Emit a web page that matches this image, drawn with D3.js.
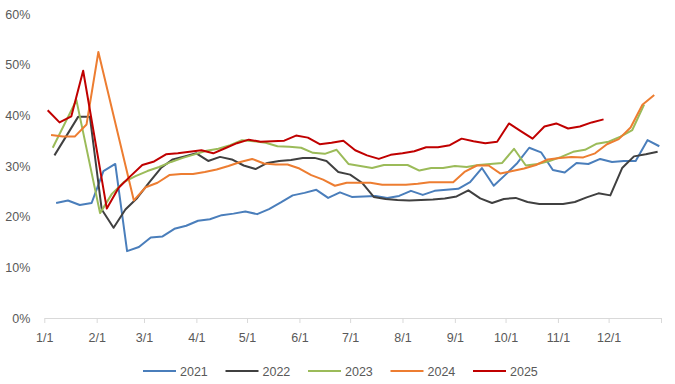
<!DOCTYPE html>
<html>
<head>
<meta charset="utf-8">
<script src="https://cdn.jsdelivr.net/npm/d3@7"></script>
<style>
  body { margin: 0; background: #fff; }
  #chart { width: 675px; height: 384px; }
  text { font-family: "Liberation Sans", Arial, sans-serif; fill: #595959; }
</style>
</head>
<body>
<div id="chart"></div>
<script>
// weekly values (%), null = week with no reading
const years = ["2021", "2022", "2023", "2024", "2025"];
const startDays = ["01-08", "01-07", "01-06", "01-05", "01-03"];
const colors = ["#4a7ebb", "#404040", "#9bbb59", "#ed7d31", "#c00000"];

const v2021 = [22.7,23.2,22.3,22.7,29.0,30.4,13.2,14.0,15.9,16.1,17.6,18.2,19.2,19.5,20.3,20.6,21.0,20.5,21.5,22.8,
  24.2,24.7,25.3,23.7,24.8,23.9,24.0,24.1,23.7,24.1,25.1,24.3,25.1,25.3,25.5,26.8,29.6,26.1,28.3,30.6,
  33.6,32.7,29.2,28.7,30.6,30.4,31.4,30.8,31.0,31.0,35.1,33.9];
const v2022 = [32.1,null,39.7,39.7,21.4,17.8,21.4,23.7,26.7,29.6,31.3,31.9,32.5,31.0,31.8,31.3,30.1,29.4,30.6,31.0,
  31.2,31.6,31.6,31.0,28.8,28.3,26.7,23.9,23.5,23.3,23.2,23.3,23.4,23.6,24.0,25.2,23.6,22.7,23.5,23.7,
  22.9,22.5,22.5,22.5,22.9,23.8,24.6,24.2,29.6,31.9,32.3,32.8];
const v2023 = [33.6,null,43.0,null,20.7,24.5,26.8,28.0,29.0,29.8,30.8,31.6,32.3,33.0,33.4,34.1,35.1,34.9,34.6,33.9,
  33.8,33.6,32.6,32.4,33.2,30.4,30.0,29.6,30.2,30.2,30.2,29.1,29.6,29.6,30.0,29.8,30.2,30.4,30.6,33.4,
  30.1,30.4,31.0,31.8,32.8,33.2,34.4,34.8,35.8,37.1,42.1];
const v2024 = [36.1,35.8,35.8,38.2,52.5,null,null,23.2,25.8,26.7,28.2,28.4,28.4,28.8,29.3,30.0,30.8,31.4,30.5,30.3,
  30.3,29.5,28.2,27.3,26.1,26.7,26.7,26.7,26.3,26.3,26.3,26.5,26.8,26.8,26.8,28.9,30.1,30.1,28.5,29.0,
  29.5,30.2,31.3,31.6,31.8,31.7,32.5,34.3,35.3,37.6,42.1,44.0];
const v2025 = [41.0,38.6,39.8,48.8,null,21.6,25.7,28.0,30.2,30.9,32.3,32.5,32.8,33.1,32.5,33.5,34.5,35.2,34.8,34.9,
  35.0,36.0,35.6,34.3,34.6,35.0,33.1,32.1,31.4,32.2,32.5,32.9,33.7,33.7,34.1,35.4,34.9,34.5,34.8,38.4,
  36.9,35.4,37.8,38.4,37.4,37.8,38.6,39.2];
const seriesValues = [v2021, v2022, v2023, v2024, v2025];

const yTicks = [0, 10, 20, 30, 40, 50, 60];
const monthLabels = ["1/1","2/1","3/1","4/1","5/1","6/1","7/1","8/1","9/1","10/1","11/1","12/1"];

// Set dimensions
const width = 675, height = 384;
const plot = { left: 44.3, right: 661, top: 14, bottom: 318 };

const svg = d3.select("#chart")
  .append("svg")
  .attr("width", width)
  .attr("height", height);

// all years mapped onto one calendar year
const parse = d3.timeParse("%Y-%m-%d");
const baseYear = 2021;
const x = d3.scaleTime()
  .domain([parse(`${baseYear}-01-01`), parse(`${baseYear + 1}-01-01`)])
  .range([plot.left, plot.right]);

const y = d3.scaleLinear()
  .domain([0, 60])
  .range([plot.bottom, plot.top]);

// Y labels (no axis line, no grid)
const yAxis = svg.append("g")
  .attr("transform", `translate(${plot.left},0)`)
  .call(d3.axisLeft(y).tickValues(yTicks).tickFormat(d => d + "%").tickSize(0).tickPadding(14));
yAxis.select(".domain").remove();
yAxis.selectAll("text").style("font-size", "12.5px").style("font-family", "Liberation Sans, Arial, sans-serif").attr("fill", "#595959");

// X axis at 0%
const monthDates = monthLabels.map((m, i) => new Date(baseYear, i, 1));
const xAxis = svg.append("g")
  .attr("transform", `translate(0,${plot.bottom})`)
  .call(d3.axisBottom(x)
    .tickValues(monthDates.concat([new Date(baseYear + 1, 0, 1)]))
    .tickFormat((d, i) => monthLabels[i] || "")
    .tickSize(5)
    .tickSizeOuter(0)
    .tickPadding(10));
xAxis.select(".domain").attr("stroke", "#d9d9d9");
xAxis.selectAll(".tick line").attr("stroke", "#d9d9d9");
xAxis.selectAll("text").style("font-size", "12.5px").style("font-family", "Liberation Sans, Arial, sans-serif").attr("fill", "#595959");

// Lines
const line = d3.line()
  .x(d => x(d.date))
  .y(d => y(d.value));

seriesValues.forEach((vals, k) => {
  const start = parse(`${baseYear}-${startDays[k]}`);
  const pts = vals
    .map((v, i) => ({ date: d3.timeDay.offset(start, i * 7), value: v }))
    .filter(d => d.value !== null);
  svg.append("path")
    .datum(pts)
    .attr("fill", "none")
    .attr("stroke", colors[k])
    .attr("stroke-width", 2)
    .attr("stroke-linejoin", "round")
    .attr("d", line);
});

// Legend
const legend = svg.append("g").attr("transform", "translate(143,371)");
years.forEach((yr, i) => {
  const row = legend.append("g").attr("transform", `translate(${i * 82.5},0)`);
  row.append("line")
    .attr("x1", 0).attr("x2", 33)
    .attr("y1", 0).attr("y2", 0)
    .attr("stroke", colors[i])
    .attr("stroke-width", 2);
  row.append("text")
    .attr("x", 37)
    .attr("y", 4.5)
    .style("font-size", "12.5px")
    .text(yr);
});
</script>
</body>
</html>
